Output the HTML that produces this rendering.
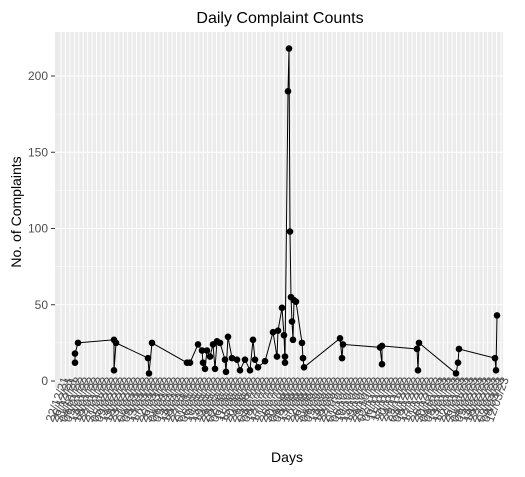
<!DOCTYPE html>
<html><head><meta charset="utf-8"><style>
body{margin:0;background:#fff;width:525px;height:472px;overflow:hidden;font-family:"Liberation Sans",sans-serif;}
</style></head><body>
<svg id="chart" width="525" height="472" xmlns="http://www.w3.org/2000/svg" font-family="Liberation Sans, sans-serif">
<rect width="525" height="472" fill="#fff"/>
<rect x="55" y="32" width="448" height="356" fill="#ebebeb"/>
<g id="grid"></g><g id="series"></g><g id="xlabels"></g><g id="yaxis"></g>
<text x="280" y="23" font-size="16" text-anchor="middle" fill="#000">Daily Complaint Counts</text>
<text x="287" y="462" font-size="14" text-anchor="middle" fill="#000">Days</text>
<text transform="translate(21,212) rotate(-90)" font-size="14" text-anchor="middle" fill="#000">No. of Complaints</text>
</svg>
<script>
const days=[20,20,23,59,59,61,93,94,97,132,135,143,147,148,150,152,155,158,160,162,165,170,171,173,177,182,185,190,195,198,200,203,210,218,222,223,227,229,230,230,233,234,235,236,237,238,239,241,247,248,249,285,287,288,325,327,327,362,363,364,401,403,404,440,441,442];
const counts=[12,18,25,27,7,25,15,5,25,12,12,24,20,12,8,20,16,24,8,26,25,14,6,29,15,14,7,14,7,27,14,9,13,32,16,33,48,30,12,16,190,218,98,55,39,27,53,52,25,15,9,28,15,24,22,11,23,21,7,25,5,12,21,15,7,43];
const yTicks=[0,50,100,150,200];
const startDate=new Date(2021,11,22);
const NS="http://www.w3.org/2000/svg";
const X0=55,X1=503,Y0=381,Y200=76;
const dom=[0,448];
function xs(d){return X0+(d-dom[0])/(dom[1]-dom[0])*(X1-X0);}
function ys(v){return Y0+(Y200-Y0)*v/200;}
function mk(t,a,p){const e=document.createElementNS(NS,t);for(const k in a)e.setAttribute(k,a[k]);p.appendChild(e);return e;}
const grid=document.getElementById('grid'),ser=document.getElementById('series'),xl=document.getElementById('xlabels'),ya=document.getElementById('yaxis');
for(let i=0;i<yTicks.length;i++){
  const y=ys(yTicks[i]);
  const g=mk('line',{x1:X0,x2:X1,y1:y,y2:y,stroke:'#fff','stroke-width':1.1},grid);
  
  
  if(i<yTicks.length-1){const m=ys(yTicks[i]+25);const gm=mk('line',{x1:X0,x2:X1,y1:m,y2:m,stroke:'#fff','stroke-width':0.5},grid);
  
  }
  const t=mk('text',{x:48,y:y+4,'font-size':12,'text-anchor':'end',fill:'#4d4d4d'},ya);t.textContent=yTicks[i];
  
  
  mk('line',{x1:51,x2:55,y1:y,y2:y,stroke:'#333'},ya);
}
const nCat=100;
for(let i=0;i<nCat;i++){
  const x=X0+6+i*(X1-X0-8)/(nCat-1);
  const g=mk('line',{x1:x,x2:x,y1:32,y2:388,stroke:'#fff','stroke-width':1},grid);
  
  
  const d=new Date(startDate.getTime()+i*4.5*86400000);
  const s=String(d.getDate()).padStart(2,'0')+'/'+String(d.getMonth()+1).padStart(2,'0')+'/'+String(d.getFullYear()).slice(2);
  const t=mk('text',{transform:`translate(${x+8},379) rotate(-70)`,'font-size':12,'text-anchor':'end',fill:'#4d4d4d'},xl);
  t.textContent=s;
  
  
}
let pts=days.map((d,i)=>xs(d).toFixed(1)+','+ys(counts[i]).toFixed(1)).join(' ');
const line=mk('polyline',{points:pts,fill:'none',stroke:'#000','stroke-width':1},ser);


days.forEach((d,i)=>{
  const c=mk('circle',{cx:xs(d),cy:ys(counts[i]),r:3.3,fill:'#000'},ser);
  
  
});
</script>
</body></html>
